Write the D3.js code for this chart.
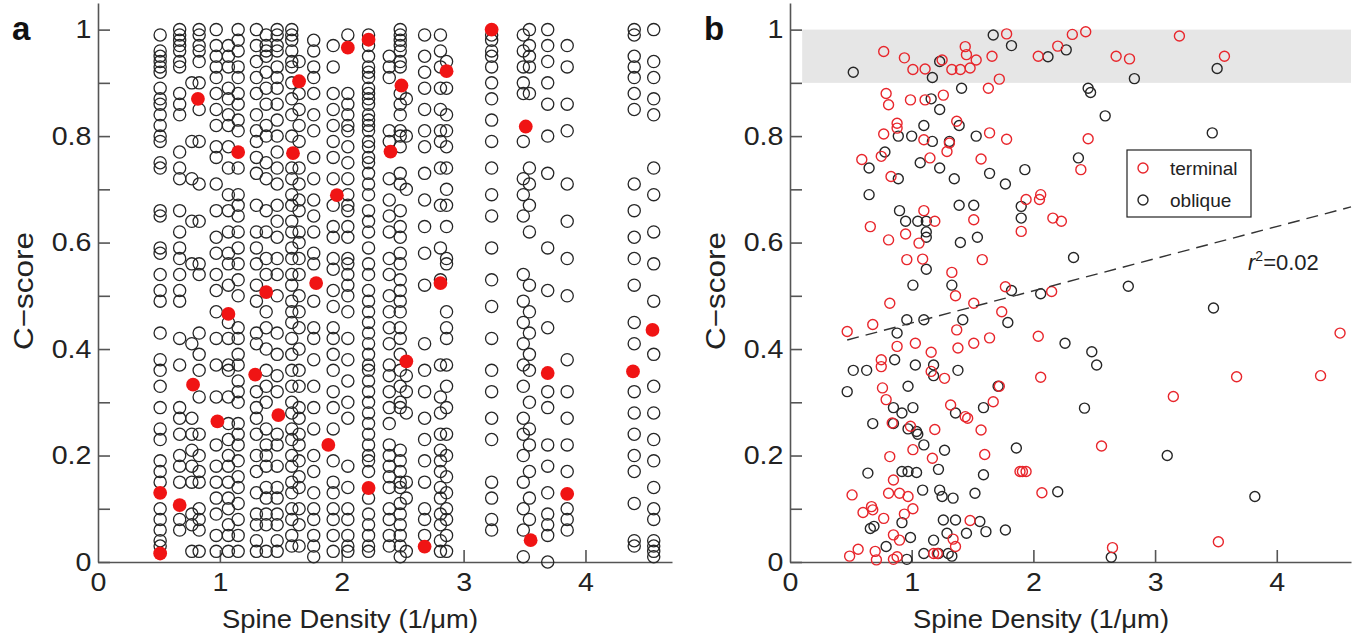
<!DOCTYPE html>
<html>
<head>
<meta charset="utf-8">
<script src="https://cdn.jsdelivr.net/npm/d3@7"></script>
<style>
  body { margin: 0; background: #fff; }
  text { font-family: "Liberation Sans", Arial, sans-serif; }
</style>
</head>
<body>
<svg id="chart" width="1358" height="641"></svg>
<script>
// panel a : spine density of each dendrite (column) and C-scores of its spines
var aColX = [0.51, 0.67, 0.77, 0.83, 0.97, 1.07, 1.15, 1.30, 1.38, 1.47, 1.59, 1.65, 1.77, 1.93, 2.05,
  2.22, 2.39, 2.48, 2.53, 2.68, 2.81, 2.86, 3.23, 3.49, 3.54, 3.69, 3.85, 4.40, 4.56];
var aColY = [
  [0.99,0.96,0.95,0.94,0.93,0.92,0.89,0.87,0.86,0.84,0.82,0.80,0.79,0.75,0.74,0.66,0.65,0.59,0.58,0.54,0.51,0.49,0.43,0.38,0.36,0.33,0.29,0.25,0.23,0.19,0.17,0.15,0.10,0.08,0.06,0.04,0.03],
  [1.0,0.99,0.98,0.97,0.96,0.94,0.93,0.88,0.86,0.84,0.77,0.74,0.72,0.66,0.62,0.59,0.57,0.54,0.51,0.49,0.42,0.37,0.29,0.27,0.24,0.20,0.18,0.15,0.08,0.06],
  [0.90,0.79,0.72,0.64,0.56,0.41,0.27,0.24,0.21,0.18,0.15,0.09,0.07,0.02],
  [1.0,0.99,0.97,0.96,0.94,0.90,0.85,0.79,0.71,0.64,0.56,0.54,0.43,0.39,0.36,0.31,0.24,0.20,0.17,0.15,0.10,0.08,0.06,0.02],
  [1.0,0.97,0.95,0.93,0.91,0.88,0.85,0.82,0.78,0.76,0.71,0.66,0.61,0.58,0.54,0.51,0.47,0.42,0.37,0.31,0.22,0.18,0.15,0.12,0.09,0.05,0.02],
  [0.97,0.95,0.93,0.89,0.87,0.84,0.82,0.78,0.74,0.69,0.66,0.62,0.58,0.56,0.52,0.45,0.42,0.37,0.36,0.31,0.26,0.23,0.20,0.18,0.15,0.12,0.10,0.07,0.05,0.02],
  [1.0,0.98,0.96,0.93,0.91,0.88,0.86,0.83,0.81,0.74,0.69,0.67,0.65,0.62,0.59,0.56,0.53,0.50,0.44,0.42,0.39,0.37,0.34,0.32,0.30,0.26,0.24,0.22,0.19,0.16,0.14,0.11,0.08,0.05,0.02],
  [1.0,0.97,0.94,0.91,0.88,0.84,0.81,0.79,0.76,0.73,0.67,0.62,0.59,0.56,0.52,0.49,0.43,0.41,0.32,0.29,0.27,0.24,0.20,0.17,0.13,0.09,0.07,0.04,0.02],
  [0.99,0.97,0.96,0.95,0.92,0.89,0.86,0.82,0.80,0.75,0.72,0.66,0.62,0.57,0.54,0.47,0.44,0.40,0.36,0.33,0.30,0.25,0.22,0.20,0.18,0.14,0.12,0.09,0.07,0.02],
  [1.0,0.99,0.97,0.96,0.93,0.91,0.89,0.86,0.83,0.80,0.77,0.74,0.71,0.67,0.64,0.61,0.57,0.54,0.50,0.43,0.39,0.35,0.32,0.24,0.22,0.18,0.14,0.12,0.09,0.07,0.04,0.02],
  [1.0,0.99,0.98,0.96,0.94,0.93,0.90,0.87,0.84,0.80,0.74,0.72,0.69,0.67,0.64,0.62,0.59,0.57,0.54,0.52,0.49,0.47,0.45,0.42,0.39,0.36,0.33,0.30,0.28,0.25,0.23,0.20,0.18,0.15,0.13,0.10,0.08,0.05,0.03],
  [0.94,0.88,0.85,0.82,0.79,0.74,0.71,0.68,0.66,0.62,0.60,0.57,0.54,0.50,0.47,0.44,0.40,0.36,0.33,0.29,0.27,0.24,0.22,0.19,0.16,0.14,0.10,0.07,0.03],
  [0.98,0.96,0.93,0.91,0.88,0.84,0.81,0.76,0.72,0.68,0.65,0.62,0.58,0.56,0.49,0.44,0.42,0.38,0.33,0.29,0.25,0.20,0.17,0.13,0.10,0.08,0.05,0.03,0.01],
  [0.97,0.93,0.88,0.85,0.82,0.79,0.76,0.72,0.67,0.63,0.61,0.57,0.55,0.51,0.48,0.44,0.42,0.39,0.36,0.32,0.29,0.25,0.19,0.15,0.13,0.10,0.08,0.05,0.02],
  [0.99,0.88,0.86,0.84,0.82,0.81,0.78,0.75,0.72,0.69,0.67,0.66,0.63,0.61,0.57,0.56,0.54,0.52,0.50,0.47,0.42,0.38,0.34,0.30,0.27,0.18,0.14,0.10,0.08,0.05,0.03,0.02],
  [0.99,0.97,0.95,0.93,0.92,0.91,0.89,0.88,0.87,0.86,0.84,0.83,0.82,0.81,0.79,0.78,0.76,0.75,0.73,0.71,0.69,0.66,0.64,0.62,0.59,0.56,0.54,0.51,0.49,0.47,0.45,0.43,0.41,0.39,0.37,0.36,0.34,0.32,0.30,0.28,0.26,0.24,0.22,0.20,0.19,0.17,0.12,0.09,0.07,0.05,0.03,0.02],
  [0.95,0.93,0.91,0.81,0.79,0.72,0.68,0.65,0.62,0.57,0.54,0.50,0.47,0.44,0.41,0.37,0.35,0.32,0.29,0.26,0.22,0.20,0.18,0.16,0.14,0.10,0.08,0.05,0.03],
  [1.0,0.99,0.98,0.97,0.96,0.94,0.93,0.88,0.86,0.84,0.81,0.80,0.78,0.73,0.71,0.66,0.63,0.61,0.58,0.56,0.53,0.51,0.49,0.47,0.44,0.42,0.39,0.36,0.33,0.30,0.29,0.21,0.19,0.17,0.15,0.14,0.11,0.09,0.07,0.05,0.03,0.01],
  [0.87,0.80,0.70,0.35,0.32,0.28,0.15,0.12,0.02],
  [0.99,0.95,0.92,0.89,0.85,0.81,0.78,0.73,0.68,0.63,0.58,0.52,0.41,0.36,0.32,0.27,0.23,0.19,0.15,0.10,0.08,0.05],
  [0.99,0.96,0.93,0.89,0.85,0.81,0.79,0.74,0.67,0.59,0.53,0.37,0.31,0.28,0.24,0.21,0.19,0.17,0.14,0.12,0.09,0.07,0.04,0.02],
  [0.94,0.89,0.84,0.81,0.78,0.74,0.70,0.67,0.63,0.57,0.56,0.47,0.44,0.42,0.37,0.33,0.29,0.24,0.20,0.16,0.13,0.10,0.08,0.05,0.02],
  [0.99,0.98,0.96,0.95,0.93,0.90,0.87,0.83,0.79,0.74,0.69,0.65,0.59,0.53,0.48,0.42,0.36,0.32,0.27,0.23,0.15,0.12,0.08,0.06],
  [0.99,0.96,0.93,0.90,0.88,0.79,0.72,0.69,0.65,0.54,0.49,0.45,0.41,0.37,0.33,0.27,0.24,0.20,0.15,0.10,0.06,0.01],
  [1.0,0.97,0.95,0.93,0.88,0.74,0.71,0.67,0.62,0.52,0.47,0.43,0.39,0.36,0.30,0.25,0.22,0.17,0.12,0.08],
  [1.0,0.97,0.94,0.90,0.86,0.80,0.73,0.59,0.51,0.44,0.32,0.29,0.22,0.18,0.13,0.09,0.07,0.05,0.0],
  [0.97,0.93,0.86,0.81,0.71,0.64,0.57,0.50,0.38,0.32,0.27,0.22,0.17,0.10,0.08,0.06],
  [1.0,0.99,0.95,0.93,0.91,0.88,0.85,0.71,0.66,0.61,0.57,0.52,0.45,0.41,0.32,0.28,0.24,0.20,0.17,0.11,0.04,0.03],
  [1.0,0.94,0.91,0.87,0.84,0.74,0.69,0.62,0.56,0.49,0.39,0.33,0.28,0.23,0.19,0.14,0.10,0.08,0.04,0.03,0.02,0.01]
];
// panel a : highlighted (filled red) spines
var aRedX = [0.51, 0.51, 0.67, 0.78, 0.98, 0.82, 1.15, 1.07, 1.29, 1.48, 1.38, 1.60, 1.65, 1.79, 1.89, 1.96,
  2.05, 2.22, 2.40, 2.49, 2.86, 3.23, 3.51, 2.22, 2.53, 2.81, 2.68, 3.69, 3.55, 3.85, 4.39, 4.55];
var aRedY = [0.016, 0.13, 0.107, 0.333, 0.264, 0.87, 0.77, 0.466, 0.352, 0.276, 0.507, 0.768, 0.903, 0.524, 0.22, 0.689,
  0.966, 0.981, 0.771, 0.895, 0.922, 1.0, 0.818, 0.139, 0.377, 0.524, 0.029, 0.355, 0.041, 0.128, 0.358, 0.436];

// panel b : terminal spines
var bTermX = [0.77,0.94,1.01,1.11,1.25,1.33,1.40,1.48,1.44,1.45,1.53,1.66,1.78,0.79,0.81,0.99,1.11,1.26,1.63,1.72,
  0.77,0.88,0.88,1.10,1.31,1.29,1.37,1.64,1.78,0.59,0.75,0.83,1.15,1.57,0.66,0.81,0.95,1.06,1.10,1.19,1.51,
  0.96,1.09,1.58,1.33,1.36,0.82,1.51,1.77,1.74,
  0.47,0.68,0.88,1.03,1.16,1.37,1.38,1.51,1.64,0.75,0.75,0.76,0.79,1.16,1.27,1.32,1.44,1.46,1.57,1.67,1.72,
  1.19,0.99,0.84,1.01,0.82,1.17,1.60,0.85,0.81,0.90,0.97,1.01,0.51,0.60,0.67,0.68,0.77,0.85,0.90,0.94,1.34,
  1.48,0.49,0.56,0.70,0.71,0.85,0.88,1.18,1.21,1.36,1.89,
  2.04,2.20,2.32,2.43,2.68,2.79,3.20,3.57,2.45,2.39,1.94,2.06,2.05,2.16,2.23,1.90,2.15,
  2.04,2.06,3.15,3.67,4.36,4.52,2.56,1.91,1.94,2.07,2.65,3.52];
var bTermY = [0.959,0.947,0.925,0.926,0.943,0.925,0.925,0.928,0.968,0.953,0.943,0.950,0.992,0.880,0.859,0.868,0.868,0.877,0.890,0.907,
  0.804,0.824,0.815,0.793,0.787,0.771,0.828,0.806,0.794,0.756,0.762,0.724,0.759,0.757,0.630,0.605,0.616,0.599,0.660,0.640,0.643,
  0.568,0.569,0.568,0.544,0.500,0.486,0.486,0.517,0.470,
  0.433,0.446,0.405,0.411,0.394,0.436,0.402,0.411,0.421,0.380,0.367,0.327,0.305,0.358,0.345,0.295,0.273,0.270,0.248,0.301,0.330,
  0.249,0.255,0.261,0.211,0.198,0.195,0.202,0.154,0.129,0.129,0.123,0.100,0.126,0.093,0.104,0.098,0.082,0.051,0.041,0.090,0.043,
  0.078,0.011,0.024,0.020,0.004,0.005,0.010,0.016,0.016,0.029,0.170,
  0.950,0.969,0.991,0.996,0.950,0.945,0.988,0.950,0.795,0.737,0.681,0.690,0.681,0.646,0.640,0.621,0.508,
  0.424,0.347,0.311,0.348,0.350,0.430,0.218,0.170,0.170,0.130,0.027,0.038];

// panel b : oblique spines
var bOblX = [0.52,1.17,1.41,1.16,1.23,1.10,0.89,1.00,1.17,1.31,1.39,1.53,0.78,0.65,1.07,1.23,1.35,1.64,1.77,0.65,
  0.89,0.90,0.95,1.05,1.12,1.12,1.12,1.39,1.51,1.40,1.54,1.12,1.01,1.33,1.82,1.67,1.82,1.23,
  0.96,1.10,1.42,1.79,
  0.88,0.86,1.03,1.18,1.18,1.38,0.52,0.63,0.47,0.97,0.85,0.92,1.01,0.68,0.85,0.97,1.04,1.05,1.10,1.27,1.59,
  1.36,1.71,0.92,0.97,1.04,0.64,1.22,1.09,1.23,1.34,1.25,1.52,1.59,0.66,0.69,0.92,0.99,1.26,1.36,1.29,1.45,
  1.56,1.61,1.77,0.79,0.96,1.10,1.18,1.22,1.30,1.33,1.86,
  2.12,2.27,2.45,2.47,2.83,3.51,2.59,3.47,2.37,1.93,1.90,1.90,2.33,2.06,2.78,3.48,
  2.26,2.48,2.52,2.42,3.10,2.20,3.82,2.64];
var bOblY = [0.92,0.91,0.89,0.87,0.85,0.82,0.80,0.80,0.79,0.79,0.82,0.80,0.77,0.74,0.75,0.74,0.72,0.73,0.71,0.69,
  0.72,0.66,0.64,0.64,0.64,0.62,0.61,0.67,0.67,0.60,0.61,0.55,0.52,0.52,0.51,0.99,0.97,0.94,
  0.455,0.455,0.455,0.45,
  0.43,0.38,0.37,0.37,0.35,0.36,0.36,0.36,0.32,0.33,0.29,0.28,0.29,0.26,0.26,0.25,0.245,0.24,0.22,0.21,0.29,
  0.28,0.33,0.17,0.17,0.168,0.167,0.174,0.135,0.135,0.12,0.123,0.129,0.164,0.063,0.067,0.074,0.046,0.079,0.079,0.054,0.054,
  0.076,0.057,0.06,0.029,0.005,0.016,0.041,0.016,0.016,0.011,0.214,
  0.949,0.962,0.89,0.882,0.908,0.927,0.838,0.806,0.759,0.737,0.668,0.646,0.572,0.504,0.518,0.477,
  0.411,0.395,0.37,0.289,0.2,0.132,0.123,0.009];

// linear fit (dashed) and shaded band
var bFitX = [0.47, 4.61];
var bFitY = [0.417, 0.667];
var bandX = [0.1, 4.61];
var bandY = [0.9, 1.0];

var xTickVals = [0, 1, 2, 3, 4];
var yTickVals = [0, 0.1, 0.2, 0.3, 0.4, 0.5, 0.6, 0.7, 0.8, 0.9, 1.0];

var colors = { red: '#e8262c', redFill: '#f01414', black: '#262626', axis: '#555', band: '#e6e6e6' };

var svg = d3.select('#chart');

var y = d3.scaleLinear().domain([0, 1.05]).range([562, 3]);
var xa = d3.scaleLinear().domain([0, 4.71]).range([98, 672]);
var xb = d3.scaleLinear().domain([0, 4.61]).range([790, 1351]);

function fmtY(d) {
  // labels only every 0.2
  return Math.round(d * 10) % 2 === 0 ? d3.format('~g')(d) : '';
}

function drawAxes(x, left, label, titleX) {
  var gy = svg.append('g')
    .attr('transform', 'translate(' + left + ',0)')
    .call(d3.axisLeft(y).tickValues(yTickVals).tickFormat(fmtY).tickSizeInner(-12).tickSizeOuter(0).tickPadding(6));
  var gx = svg.append('g')
    .attr('transform', 'translate(0,' + y(0) + ')')
    .call(d3.axisBottom(x).tickValues(xTickVals).tickFormat(d3.format('d')).tickSizeInner(-12).tickSizeOuter(0).tickPadding(11));

  [gy, gx].forEach(function(g){
    g.select('.domain').attr('stroke', colors.axis).attr('stroke-width', 1.6);
    g.selectAll('.tick line').attr('stroke', colors.axis).attr('stroke-width', 1.6);
    g.selectAll('.tick text')
      .attr('fill', '#222')
      .style('font-size', '26px')
      .style('font-family', '"Liberation Sans", Arial, sans-serif')
      .attr('transform', 'scale(1.1,1)');
  });
  gx.selectAll('.tick').filter(function(d){ return d === 0; }).select('line').remove();

  svg.append('text')
    .attr('transform', 'translate(' + (left - 65) + ',291) rotate(-90)')
    .attr('text-anchor', 'middle')
    .attr('textLength', 118)
    .attr('lengthAdjust', 'spacingAndGlyphs')
    .style('font-size', '28px')
    .attr('fill', '#222')
    .text('C\u2212score');

  svg.append('text')
    .attr('x', titleX)
    .attr('y', 628)
    .attr('text-anchor', 'middle')
    .attr('textLength', 256)
    .attr('lengthAdjust', 'spacingAndGlyphs')
    .style('font-size', '26px')
    .attr('fill', '#222')
    .text('Spine Density (1/\u03bcm)');

  svg.append('text')
    .attr('x', left - 86)
    .attr('y', 40)
    .style('font-size', '33px')
    .style('font-weight', 'bold')
    .attr('fill', '#111')
    .text(label);
}

// ---- panel a
drawAxes(xa, 98, 'a', 350);

var aPoints = [];
aColX.forEach(function(cx, i){
  aColY[i].forEach(function(v){ aPoints.push([cx, v]); });
});

svg.append('g').selectAll('circle')
  .data(aPoints)
  .enter().append('circle')
  .attr('cx', function(d){ return xa(d[0]); })
  .attr('cy', function(d){ return y(d[1]); })
  .attr('r', 6.1)
  .attr('fill', 'none')
  .attr('stroke', colors.black)
  .attr('stroke-width', 1.3);

svg.append('g').selectAll('circle')
  .data(aRedX)
  .enter().append('circle')
  .attr('cx', function(d){ return xa(d); })
  .attr('cy', function(d, i){ return y(aRedY[i]); })
  .attr('r', 6.9)
  .attr('fill', colors.redFill);

// ---- panel b
svg.append('rect')
  .attr('x', xb(bandX[0]))
  .attr('y', y(bandY[1]))
  .attr('width', xb(bandX[1]) - xb(bandX[0]))
  .attr('height', y(bandY[0]) - y(bandY[1]))
  .attr('fill', colors.band);

drawAxes(xb, 790, 'b', 1041);

svg.append('g').selectAll('circle')
  .data(bOblX)
  .enter().append('circle')
  .attr('cx', function(d){ return xb(d); })
  .attr('cy', function(d, i){ return y(bOblY[i]); })
  .attr('r', 5)
  .attr('fill', 'none')
  .attr('stroke', colors.black)
  .attr('stroke-width', 1.4);

svg.append('g').selectAll('circle')
  .data(bTermX)
  .enter().append('circle')
  .attr('cx', function(d){ return xb(d); })
  .attr('cy', function(d, i){ return y(bTermY[i]); })
  .attr('r', 5)
  .attr('fill', 'none')
  .attr('stroke', colors.red)
  .attr('stroke-width', 1.4);

svg.append('line')
  .attr('x1', xb(bFitX[0])).attr('y1', y(bFitY[0]))
  .attr('x2', xb(bFitX[1])).attr('y2', y(bFitY[1]))
  .attr('stroke', '#333')
  .attr('stroke-width', 1.4)
  .attr('stroke-dasharray', '12,7');

var r2 = svg.append('text')
  .attr('x', 1248)
  .attr('y', 270)
  .style('font-size', '22px')
  .attr('fill', '#222');
r2.append('tspan').style('font-style', 'italic').text('r');
r2.append('tspan').attr('dy', -9).style('font-size', '14px').text('2');
r2.append('tspan').attr('dy', 9).text('=0.02');

// legend
var legend = svg.append('g');
legend.append('rect')
  .attr('x', 1127).attr('y', 150)
  .attr('width', 124).attr('height', 67)
  .attr('fill', '#fff')
  .attr('stroke', '#222')
  .attr('stroke-width', 1.2);
[['terminal', colors.red, 168], ['oblique', colors.black, 200]].forEach(function(it){
  legend.append('circle')
    .attr('cx', 1143).attr('cy', it[2])
    .attr('r', 5)
    .attr('fill', 'none')
    .attr('stroke', it[1])
    .attr('stroke-width', 1.4);
  legend.append('text')
    .attr('x', 1170).attr('y', it[2] + 7)
    .style('font-size', '19px')
    .attr('fill', '#222')
    .text(it[0]);
});
</script>
</body>
</html>
